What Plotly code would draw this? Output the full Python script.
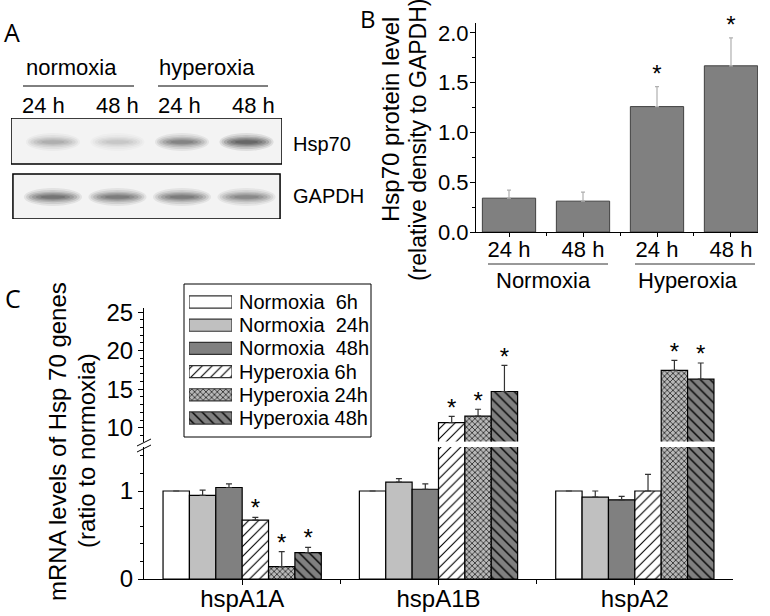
import plotly.graph_objects as go

W, H = 770, 616


def px(x):
    return x / W


def py(y):
    return 1 - y / H


FONT = "Liberation Sans, Arial, sans-serif"
LETTER_FONT = "Open Sans, DejaVu Sans, sans-serif"

# ---------------- data ----------------
# Panel A (western blot, band darkness 0..1)
blot_lanes = ["24 h", "48 h", "24 h", "48 h"]
blot_groups = ["normoxia", "hyperoxia"]
blot_rows = ["Hsp70", "GAPDH"]
hsp70_band = [0.30, 0.18, 0.55, 0.78]
gapdh_band = [0.66, 0.60, 0.60, 0.52]

# Panel B
b_lanes = ["24 h", "48 h", "24 h", "48 h"]
b_groups = ["Normoxia", "Hyperoxia"]
b_values = [0.34, 0.31, 1.26, 1.67]
b_errors = [0.08, 0.09, 0.20, 0.28]
b_sig = [False, False, True, True]

# Panel C
genes = ["hspA1A", "hspA1B", "hspA2"]
series_names = ["Normoxia\u00a0 6h", "Normoxia\u00a0 24h", "Normoxia\u00a0 48h",
                "Hyperoxia 6h", "Hyperoxia 24h", "Hyperoxia 48h"]
c_values = [
    [1.00, 1.00, 1.00],
    [0.95, 1.10, 0.93],
    [1.04, 1.02, 0.90],
    [0.67, 10.65, 1.00],
    [0.14, 11.5, 17.45],
    [0.30, 14.7, 16.3],
]
c_errors = [
    [0.0, 0.0, 0.0],
    [0.06, 0.04, 0.07],
    [0.04, 0.06, 0.04],
    [0.03, 0.83, 0.19],
    [0.17, 0.90, 1.30],
    [0.06, 3.40, 2.10],
]
c_sig = [
    [False, False, False],
    [False, False, False],
    [False, False, False],
    [True, True, False],
    [True, True, True],
    [True, True, True],
]

# ---------------- styles ----------------
c_colors = ["white", "#c0c0c0", "#808080", "white", "#b8b8b8", "#808080"]
c_patterns = ["", "", "", "/", "x", "\\"]
c_psize = [8, 8, 8, 7, 4, 7]
c_solid = [0.2, 0.2, 0.2, 0.16, 0.3, 0.2]

fig = go.Figure()
shapes = []
annotations = []


def note(text, x, y, size, family=FONT, angle=0, xanchor="center"):
    annotations.append(dict(text=text, x=px(x), y=py(y), xref="paper", yref="paper",
                            xanchor=xanchor, yanchor="middle", textangle=angle,
                            showarrow=False, font=dict(family=family, size=size, color="black")))


# ---------------- Panel A: blot ----------------
fig.add_trace(go.Scatter(x=[0], y=[0], mode="markers", marker=dict(opacity=0),
                         xaxis="x", yaxis="y", showlegend=False, hoverinfo="skip"))
shapes.append(dict(type="rect", xref="x", yref="y", x0=-0.65, x1=3.55, y0=0.60, y1=1.436,
                   line=dict(color="black", width=1.5), fillcolor="#f3f3f3", layer="below"))
shapes.append(dict(type="rect", xref="x", yref="y", x0=-0.62, x1=3.52, y0=-0.40, y1=0.418,
                   line=dict(color="black", width=1.5), fillcolor="#f3f3f3", layer="below"))
layers = [(1.05, 1.8, 0.12), (0.97, 1.4, 0.16), (0.88, 1.05, 0.2), (0.76, 0.8, 0.22),
          (0.62, 0.55, 0.24), (0.45, 0.35, 0.25)]
for row_y, bands, bw in [(1.0, hsp70_band, 0.40), (0.0, gapdh_band, 0.43)]:
    for k, d in enumerate(bands):
        for sx, sy, op in layers:
            shapes.append(dict(type="circle", xref="x", yref="y",
                               x0=k - bw * sx, x1=k + bw * sx,
                               y0=row_y - 0.09 * sy, y1=row_y + 0.09 * sy,
                               line=dict(width=0), fillcolor="#1a1a1a",
                               opacity=min(1.0, d * op)))

note("A", 12, 32, 25, LETTER_FONT)
for g, cx, x0, x1 in [(0, 71, 23, 134), (1, 207, 158, 268)]:
    note(blot_groups[g], cx, 68, 22)
    shapes.append(dict(type="line", xref="paper", yref="paper", x0=px(x0), x1=px(x1),
                       y0=py(86), y1=py(86), line=dict(color="black", width=1)))
for lab, cx in zip(blot_lanes, [43, 117, 179, 253]):
    note(lab, cx, 106, 22)
for lab, cy in zip(blot_rows, [144, 196]):
    note(lab, 291, cy, 20, xanchor="left")

# ---------------- Panel B ----------------
fig.add_trace(go.Bar(
    x=list(range(len(b_values))), y=b_values, width=0.72, xaxis="x2", yaxis="y2",
    marker=dict(color="#808080", line=dict(color="#404040", width=1)),
    error_y=dict(type="data", symmetric=False, array=b_errors, arrayminus=[0] * len(b_errors),
                 color="#b0b0b0", thickness=1.2, width=2),
    showlegend=False, hoverinfo="skip"))
bx = [i for i, s in enumerate(b_sig) if s]
by = [b_values[i] + b_errors[i] + 0.11 for i in bx]
fig.add_trace(go.Scatter(x=bx, y=by, mode="text", text=["*"] * len(bx), xaxis="x2", yaxis="y2",
                         textfont=dict(family=FONT, size=24, color="black"),
                         cliponaxis=False, showlegend=False, hoverinfo="skip"))
note("B", 368, 18, 24, LETTER_FONT)
note("Hsp70 protein level", 391, 120, 24, angle=-90)
note("(relative density to GAPDH)", 418, 140, 23, angle=-90)
for g, cx, x0, x1 in [(0, 543, 488, 608), (1, 688, 635, 755)]:
    note(b_groups[g], cx, 280, 22)
    shapes.append(dict(type="line", xref="paper", yref="paper", x0=px(x0), x1=px(x1),
                       y0=py(264), y1=py(264), line=dict(color="#333", width=1)))

# ---------------- Panel C ----------------
n_series = len(c_values)
bw = 0.806 / n_series
for i in range(n_series):
    off = -0.403 + i * bw
    for ya in ["y3", "y4"]:
        fig.add_trace(go.Bar(
            x=list(range(len(genes))), y=c_values[i], width=bw, offset=off,
            xaxis="x3", yaxis=ya,
            marker=dict(color=c_colors[i], line=dict(color="black", width=1.2),
                        pattern=dict(shape=c_patterns[i], fgcolor="black", bgcolor=c_colors[i],
                                     size=c_psize[i], solidity=c_solid[i])),
            error_y=dict(type="data", symmetric=False, array=c_errors[i],
                         arrayminus=[0] * len(genes), color="#333", thickness=1.2, width=3),
            showlegend=False, hoverinfo="skip"))
    sx_lo, sy_lo, sx_hi, sy_hi = [], [], [], []
    for g in range(len(genes)):
        if not c_sig[i][g]:
            continue
        top = c_values[i][g] + c_errors[i][g]
        xc = g + off + bw / 2
        if top < 1.5:
            sx_lo.append(xc); sy_lo.append(top + 0.08)
        else:
            sx_hi.append(xc); sy_hi.append(top + 0.85)
    for xs, ys, ya in [(sx_lo, sy_lo, "y3"), (sx_hi, sy_hi, "y4")]:
        if xs:
            fig.add_trace(go.Scatter(x=xs, y=ys, mode="text", text=["*"] * len(xs),
                                     xaxis="x3", yaxis=ya, cliponaxis=False,
                                     textfont=dict(family=FONT, size=24, color="black"),
                                     showlegend=False, hoverinfo="skip"))

# legend (custom, swatches as bars in a small axis)
for i in range(n_series):
    fig.add_trace(go.Bar(
        x=[1], y=[i], base=0, orientation="h", width=0.52, xaxis="x5", yaxis="y5",
        marker=dict(color=c_colors[i], line=dict(color="#333", width=1.2),
                    pattern=dict(shape=c_patterns[i], fgcolor="black", bgcolor=c_colors[i],
                                 size=c_psize[i], solidity=c_solid[i])),
        showlegend=False, hoverinfo="skip"))
    note(series_names[i], 237, 302 + 23.2 * i, 20, xanchor="left")
shapes.append(dict(type="rect", xref="paper", yref="paper", x0=px(184), x1=px(371),
                   y0=py(437), y1=py(284), line=dict(color="black", width=1)))

note("C", 13, 298, 25, LETTER_FONT)
note("mRNA levels of Hsp 70 genes", 57, 442, 24, angle=-90)
note("(ratio to normoxia)", 87, 451, 24, angle=-90)
for dy in (0, 6):
    shapes.append(dict(type="line", xref="paper", yref="paper", x0=px(137), x1=px(151),
                       y0=py(446 + dy), y1=py(439 + dy), line=dict(color="black", width=1)))

axis_common = dict(showline=True, linecolor="black", linewidth=1, ticks="outside",
                   tickcolor="black", showgrid=False, zeroline=False, automargin=False,
                   fixedrange=True)

fig.update_layout(
    template="none",
    width=W, height=H, autosize=False,
    margin=dict(l=0, r=0, t=0, b=0, pad=0),
    paper_bgcolor="white", plot_bgcolor="white",
    barmode="overlay", showlegend=False,
    font=dict(family=FONT, color="black"),
    shapes=shapes, annotations=annotations,
    xaxis=dict(domain=[px(11), px(282)], range=[-0.65, 3.55], visible=False, fixedrange=True,
               automargin=False),
    yaxis=dict(domain=[py(219), py(118)], range=[-0.4, 1.436], visible=False, fixedrange=True,
               automargin=False),
    xaxis2=dict(domain=[px(476), px(758)], range=[-0.446, 3.365], anchor="y2",
                tickvals=list(range(len(b_lanes))), ticktext=b_lanes, ticklen=4,
                ticklabelstandoff=-6,
                tickfont=dict(size=22), minor=dict(tickvals=[0.5, 1.5, 2.5], ticklen=3,
                                                   ticks="outside", tickcolor="black"),
                **axis_common),
    yaxis2=dict(domain=[py(232), py(23)], range=[0, 2.1], anchor="x2", dtick=0.5,
                tickformat=".1f", ticklen=5, tickfont=dict(size=22), ticklabelstandoff=-3,
                minor=dict(dtick=0.25, ticklen=3, ticks="outside", tickcolor="black"),
                **axis_common),
    xaxis3=dict(domain=[px(144), px(733)], range=[-0.5, 2.5], anchor="y3",
                tickvals=list(range(len(genes))), ticktext=genes, ticklen=5,
                ticklabelstandoff=-7,
                tickfont=dict(size=24), minor=dict(tickvals=[0.5, 1.5], ticklen=4,
                                                   ticks="outside", tickcolor="black"),
                **axis_common),
    yaxis3=dict(domain=[py(579), py(447)], range=[0, 1.5], anchor="x3", tickvals=[0, 1],
                ticklen=5, tickfont=dict(size=24),
                minor=dict(tick0=0, dtick=0.2, ticklen=3, ticks="outside", tickcolor="black"),
                **axis_common),
    yaxis4=dict(domain=[py(441.6), py(308.3)], range=[8.2, 25.5], anchor="x3",
                tickvals=[10, 15, 20, 25], ticklen=5, tickfont=dict(size=24),
                minor=dict(tick0=0, dtick=1, ticklen=3, ticks="outside", tickcolor="black"),
                **axis_common),
    xaxis5=dict(domain=[px(189), px(232)], range=[0, 1], visible=False, fixedrange=True,
                anchor="y5", automargin=False),
    yaxis5=dict(domain=[py(430), py(290)], range=[5.517, -0.517], visible=False,
                fixedrange=True, anchor="x5", automargin=False),
)

fig.write_html("out.html", config={"displayModeBar": False},
               post_script="document.body.style.margin='0';document.body.style.padding='0';"
                           "document.body.style.overflow='hidden';")
